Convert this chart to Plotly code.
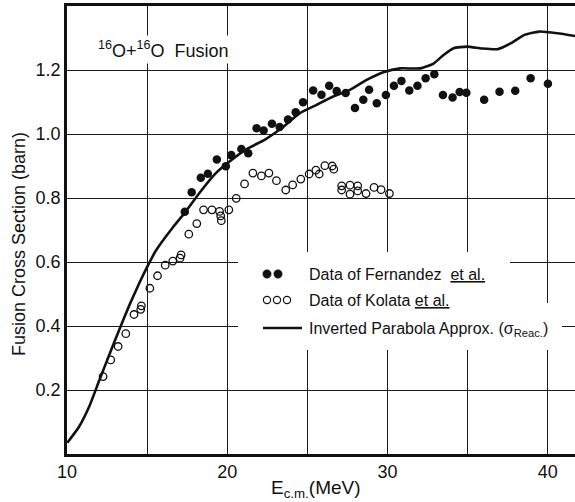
import plotly.graph_objects as go

# ---------------- data ----------------
fern_E = [17.35, 17.78, 18.35, 18.79, 19.35, 19.91, 20.25, 20.88, 21.31, 21.83,
          22.27, 22.79, 23.27, 23.79, 24.27, 24.73, 25.36, 25.88, 26.36, 26.83,
          27.39, 27.97, 28.49, 28.85, 29.33, 29.90, 30.40, 30.87, 31.36, 31.87,
          32.38, 32.92, 33.46, 34.06, 34.50, 34.92, 36.03, 36.99, 37.97, 38.93,
          40.01]
fern_sigma = [0.757, 0.818, 0.863, 0.876, 0.920, 0.899, 0.934, 0.953, 0.940, 1.018,
              1.011, 1.032, 1.022, 1.045, 1.068, 1.099, 1.136, 1.123, 1.151, 1.134,
              1.128, 1.081, 1.107, 1.138, 1.096, 1.122, 1.151, 1.166, 1.136, 1.151,
              1.174, 1.187, 1.122, 1.114, 1.131, 1.129, 1.107, 1.132, 1.135, 1.174,
              1.157]

kol_E = [12.25, 12.73, 13.19, 13.67, 14.18, 14.60, 14.64, 15.17, 15.65, 16.13,
         16.60, 17.05, 17.12, 17.60, 18.10, 18.52, 19.04, 19.52, 19.59, 19.63,
         20.10, 20.56, 21.08, 21.60, 22.13, 22.60, 23.07, 23.65, 24.08, 24.59,
         25.11, 25.53, 25.74, 26.09, 26.55, 26.65, 27.14, 27.14, 27.66, 27.66,
         28.14, 28.14, 28.66, 29.16, 29.60, 30.12]
kol_sigma = [0.242, 0.294, 0.336, 0.376, 0.436, 0.452, 0.463, 0.518, 0.557, 0.590,
             0.603, 0.612, 0.622, 0.687, 0.720, 0.763, 0.763, 0.758, 0.744, 0.729,
             0.763, 0.799, 0.844, 0.878, 0.869, 0.878, 0.854, 0.825, 0.841, 0.859,
             0.875, 0.887, 0.875, 0.901, 0.900, 0.890, 0.838, 0.825, 0.840, 0.812,
             0.838, 0.822, 0.814, 0.833, 0.826, 0.814]

curve_E = [10.02, 10.75, 11.4, 12.0, 12.7, 13.3, 13.9, 14.5, 15.1, 15.55,
           16.6, 17.35, 18.3, 19.2, 19.94, 21.29, 22.33, 23.38, 24.53, 25.57,
           26.61, 27.66, 28.70, 29.74, 30.79, 32.04, 32.87, 33.5, 34.13, 34.97,
           35.9, 36.85, 37.68, 38.52, 39.45, 40.6, 41.75]
curve_sigma = [0.035, 0.085, 0.150, 0.228, 0.318, 0.393, 0.466, 0.533, 0.594, 0.636,
               0.708, 0.754, 0.818, 0.873, 0.906, 0.955, 0.982, 1.018, 1.065, 1.091,
               1.117, 1.138, 1.169, 1.193, 1.205, 1.205, 1.220, 1.247, 1.268, 1.273,
               1.267, 1.265, 1.283, 1.309, 1.320, 1.315, 1.306]

x_tick_vals = [10, 15, 20, 25, 30, 35, 40]
x_tick_text = ["10", "", "20", "", "30", "", "40"]
y_tick_vals = [0.2, 0.4, 0.6, 0.8, 1.0, 1.2]
y_tick_text = ["0.2", "0.4", "0.6", "0.8", "1.0", "1.2"]

series_names = ["Data of Fernandez  <u>et al.</u>",
                "Data of Kolata <u>et al.</u>",
                "Inverted Parabola Approx. (σ<sub>Reac.</sub>)"]
chart_title = "<sup>16</sup>O+<sup>16</sup>O  Fusion"
x_title = "E<sub>c.m.</sub>(MeV)"
y_title = "Fusion Cross Section (barn)"

# ---------------- layout geometry ----------------
W, H = 575, 502
PL, PR, PT, PB = 67, 0, 6, 48
PW, PH = W - PL - PR, H - PT - PB
FONT = "Liberation Sans, Arial, sans-serif"
INK = "#111111"


def xp(px):
    return (px - PL) / PW


def yp(py):
    return (PT + PH - py) / PH


fig = go.Figure()

fig.add_trace(go.Scatter(
    x=curve_E, y=curve_sigma, mode="lines", name=series_names[2],
    line=dict(color=INK, width=2.6, shape="spline", smoothing=0.5),
    showlegend=False, cliponaxis=True))

fig.add_trace(go.Scatter(
    x=kol_E, y=kol_sigma, mode="markers", name=series_names[1],
    marker=dict(symbol="circle-open", size=7.5, color=INK, line=dict(width=1.3)),
    showlegend=False))

fig.add_trace(go.Scatter(
    x=fern_E, y=fern_sigma, mode="markers", name=series_names[0],
    marker=dict(symbol="circle", size=8.5, color=INK),
    showlegend=False))

shapes = []
# white masks behind the legend (gridlines are broken there in the original)
shapes.append(dict(type="rect", xref="paper", yref="paper", layer="above",
                   x0=xp(238), x1=xp(510), y0=yp(350), y1=yp(252),
                   fillcolor="white", line=dict(width=0)))
shapes.append(dict(type="rect", xref="paper", yref="paper", layer="above",
                   x0=xp(505), x1=xp(562), y0=yp(350), y1=yp(303),
                   fillcolor="white", line=dict(width=0)))
# legend keys
for cx in (267, 278):
    shapes.append(dict(type="circle", xref="paper", yref="paper", layer="above",
                       xsizemode="pixel", ysizemode="pixel",
                       xanchor=xp(cx), yanchor=yp(274),
                       x0=-4.2, x1=4.2, y0=-4.2, y1=4.2,
                       fillcolor=INK, line=dict(color=INK, width=0.5)))
for cx in (267, 277, 287):
    shapes.append(dict(type="circle", xref="paper", yref="paper", layer="above",
                       xsizemode="pixel", ysizemode="pixel",
                       xanchor=xp(cx), yanchor=yp(300),
                       x0=-3.6, x1=3.6, y0=-3.6, y1=3.6,
                       fillcolor="white", line=dict(color=INK, width=1.2)))
shapes.append(dict(type="line", xref="paper", yref="paper", layer="above",
                   x0=xp(263), x1=xp(302), y0=yp(328), y1=yp(328),
                   line=dict(color=INK, width=2.5)))

annotations = [
    dict(text=chart_title, xref="paper", yref="paper", x=xp(95), y=yp(50),
         xanchor="left", yanchor="middle", showarrow=False,
         font=dict(family=FONT, size=18, color=INK), bgcolor="white", borderpad=2),
    dict(text=series_names[0], xref="paper", yref="paper", x=xp(307), y=yp(274),
         xanchor="left", yanchor="middle", showarrow=False,
         font=dict(family=FONT, size=16, color=INK)),
    dict(text=series_names[1], xref="paper", yref="paper", x=xp(307), y=yp(300),
         xanchor="left", yanchor="middle", showarrow=False,
         font=dict(family=FONT, size=16, color=INK)),
    dict(text=series_names[2], xref="paper", yref="paper", x=xp(307), y=yp(329),
         xanchor="left", yanchor="middle", showarrow=False,
         font=dict(family=FONT, size=16, color=INK)),
    dict(text=y_title, xref="paper", yref="paper", x=xp(19), y=yp(244),
         xanchor="center", yanchor="middle", textangle=-90, showarrow=False,
         font=dict(family=FONT, size=18, color=INK)),
    dict(text=x_title, xref="paper", yref="paper", x=xp(316), y=yp(489),
         xanchor="center", yanchor="middle", showarrow=False,
         font=dict(family=FONT, size=19, color=INK)),
]

fig.update_layout(
    width=W, height=H,
    margin=dict(l=PL, r=PR, t=PT, b=PB),
    paper_bgcolor="white", plot_bgcolor="white",
    showlegend=False,
    shapes=shapes, annotations=annotations,
    font=dict(family=FONT, size=18, color=INK),
)

fig.update_xaxes(
    range=[10, 41.7], tickvals=x_tick_vals, ticktext=x_tick_text,
    showgrid=True, gridcolor="#1a1a1a", gridwidth=1.2,
    showline=True, linecolor=INK, linewidth=2.6, mirror=True,
    ticks="", zeroline=False, tickfont=dict(family=FONT, size=18, color=INK),
)
fig.update_yaxes(
    range=[0, 1.40], tickvals=y_tick_vals, ticktext=y_tick_text,
    showgrid=True, gridcolor="#1a1a1a", gridwidth=1.2,
    showline=True, linecolor=INK, linewidth=2.6, mirror=False,
    ticks="", zeroline=False, tickfont=dict(family=FONT, size=18, color=INK),
)

fig.write_html("out.html")
